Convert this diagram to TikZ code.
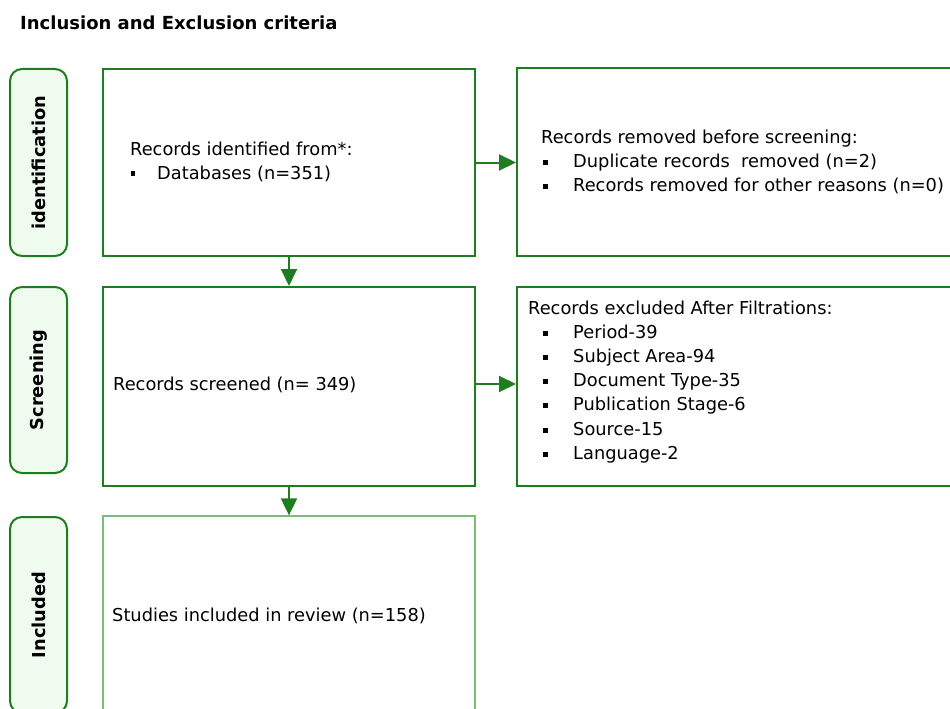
\documentclass[tikz,border=0pt]{standalone}
\usepackage{fontspec}
\setmainfont{DejaVu Sans}
\usetikzlibrary{arrows.meta,calc}
\definecolor{gborder}{RGB}{30,125,30}
\definecolor{glight}{RGB}{120,190,120}
\definecolor{gfill}{RGB}{239,251,239}
\begin{document}
\begin{tikzpicture}[x=1pt,y=1pt,
  txt/.style={font=\fontsize{17.8}{24}\selectfont, inner sep=0pt, anchor=base west},
  ttl/.style={font=\fontsize{18}{22}\bfseries\selectfont, inner sep=0pt, anchor=base west},
  box/.style={draw=gborder, line width=2pt, rectangle, inner sep=0pt, minimum width=372pt},
  rbox/.style={draw=gborder, line width=2pt, rectangle, inner sep=0pt, minimum width=480pt},
  side/.style={draw=gborder, fill=gfill, line width=2pt, rounded corners=12pt, inner sep=0pt, minimum width=57pt},
  sidetxt/.style={font=\fontsize{17.8}{20}\bfseries\selectfont, rotate=90, inner sep=0pt},
  arr/.style={draw=gborder, line width=2pt, -{Triangle[length=17pt,width=16pt]}},
  bul/.style={fill=black}]
\clip (0,0) rectangle (950,-709);

% title
\node[ttl] (title) at (20,-30) {Inclusion and Exclusion criteria};

% side labels
\node[side, minimum height=187pt] (sid) at (38.5,-162.5) {};
\node[sidetxt] (sidt) at (sid.center) {identification};
\node[side, minimum height=186pt] (ssc) at (38.5,-380) {};
\node[sidetxt] (ssct) at (ssc.center) {Screening};
\node[side, minimum height=196pt] (sin) at (38.5,-615) {};
\node[sidetxt] (sint) at (38.5,-615) {Included};

% main boxes
\node[box, minimum height=187pt] (b1) at (289,-162.5) {};
\node[box, minimum height=199pt] (b2) at (289,-386.5) {};
\node[box, draw=glight, line width=1.3pt, minimum height=204pt] (b3) at (289,-618) {};

% right boxes
\node[rbox, minimum height=188pt] (r1) at (757,-162) {};
\node[rbox, minimum height=199pt] (r2) at (757,-386.5) {};

% box texts
\node[txt] (b1a) at (130,-155) {Records identified from*:};
\node[txt] (b1b) at (157,-179) {Databases (n=351)};
\fill[bul] ($(b1b.base west)+(-26.5,3)$) rectangle +(4.8,4.8);

\node[txt] (b2a) at (113,-390) {Records screened (n= 349)};
\node[txt] (b3a) at (112,-621) {Studies included in review (n=158)};

\node[txt] (r1a) at (541,-143) {Records removed before screening:};
\node[txt] (r1b) at (573,-167) {Duplicate records\ \ removed (n=2)};
\node[txt] (r1c) at (573,-191) {Records removed for other reasons (n=0)};
\foreach \n in {r1b,r1c}
  \fill[bul] ($(\n.base west)+(-30,2.5)$) rectangle +(4.8,4.8);

\node[txt] (r2a) at (528,-314) {Records excluded After Filtrations:};
\node[txt] (r2b) at (573,-338) {Period-39};
\node[txt] (r2c) at (573,-362) {Subject Area-94};
\node[txt] (r2d) at (573,-386.5) {Document Type-35};
\node[txt] (r2e) at (573,-410.5) {Publication Stage-6};
\node[txt] (r2f) at (573,-435) {Source-15};
\node[txt] (r2g) at (573,-459) {Language-2};
\foreach \n in {r2b,r2c,r2d,r2e,r2f,r2g}
  \fill[bul] ($(\n.base west)+(-30,2.5)$) rectangle +(4.8,4.8);

% arrows
\draw[arr] (b1) -- (b2);
\draw[arr] (b2) -- (b3);
\draw[arr] (b1.east) -- (b1.east -| r1.west);
\draw[arr] ($(b2.east)+(0,2.5)$) -- ($(b2.east -| r2.west)+(0,2.5)$);
\end{tikzpicture}
\end{document}
